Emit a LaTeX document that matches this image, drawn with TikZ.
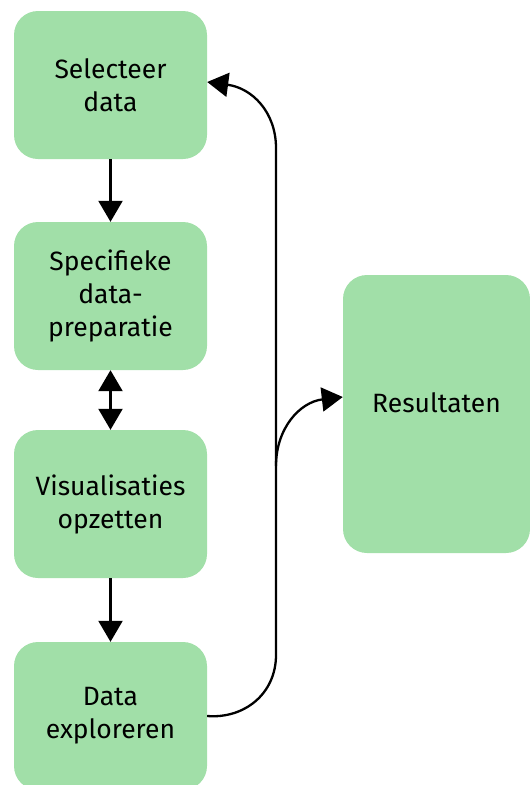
\documentclass[tikz,border=0pt]{standalone}
\usepackage{fontspec}
\setmainfont{Fira Sans}
\usetikzlibrary{arrows.meta,calc,positioning}
\definecolor{boxgreen}{HTML}{A1DFA8}
\tikzset{
 stapbox/.style={fill=boxgreen,rounded corners=24pt,minimum width=193pt,minimum height=148pt,align=center,inner sep=0pt},
 flow/.style={line width=2.3pt,-{Triangle[length=21pt,width=24pt]}},
}
\begin{document}
\begin{tikzpicture}[x=1pt,y=-1pt,font=\fontsize{26.5}{33}\selectfont]
 \useasboundingbox(0,0)rectangle(530,785);
 \node[stapbox](sel)at(110.5,85){Selecteer\\data};
 \node[stapbox](prep)at(110.5,296){Specifieke\\data-\\preparatie};
 \node[stapbox](vis)at(110.5,504){Visualisaties\\opzetten};
 \node[stapbox](expl)at(110.5,716){Data\\exploreren};
 \node[stapbox,minimum width=187pt,minimum height=278pt](res)at(436.5,414){};
 \node(restxt)at(436.5,403){Resultaten};
 \coordinate(top)at(276,148);
 \coordinate(split)at(276,466);
 \coordinate(bot)at(276,655);
 \draw[flow](sel)--(prep);
 \draw[flow,{Triangle[length=21pt,width=24pt]}-{Triangle[length=21pt,width=24pt]}](prep)--(vis);
 \draw[flow](vis)--(expl);
 \draw[flow](expl.east).. controls (244,719) and (276,694) .. (bot)--(top).. controls (276,112) and (252,88) .. ([yshift=3pt]sel.east);
 \draw[flow](split).. controls (276,428) and (300,402) .. ([yshift=17pt]res.west);
\end{tikzpicture}
\end{document}
